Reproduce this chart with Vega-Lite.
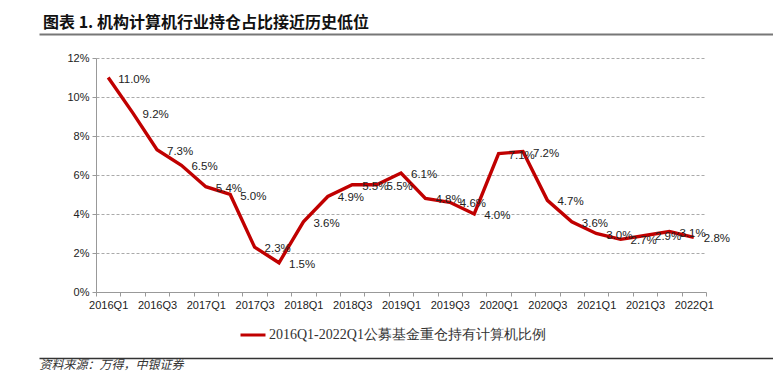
{
  "$schema": "https://vega.github.io/schema/vega-lite/v6.json",
  "width": 610,
  "height": 234,
  "padding": {"left": 38, "top": 15, "right": 0, "bottom": 4},
  "background": "white",
  "title": {
    "text": "图表 1. 机构计算机行业持仓占比接近历史低位",
    "anchor": "start",
    "frame": "group",
    "dx": -53,
    "offset": 3,
    "fontSize": 16,
    "font": "Noto Sans CJK SC",
    "fontWeight": "bold",
    "color": "#111"
  },
  "datasets": {
    "main": [
      {"q": "2016Q1", "v": 0.110, "s": "2016Q1-2022Q1公募基金重仓持有计算机比例"},
      {"q": "2016Q2", "v": 0.092, "s": "2016Q1-2022Q1公募基金重仓持有计算机比例"},
      {"q": "2016Q3", "v": 0.073, "s": "2016Q1-2022Q1公募基金重仓持有计算机比例"},
      {"q": "2016Q4", "v": 0.065, "s": "2016Q1-2022Q1公募基金重仓持有计算机比例"},
      {"q": "2017Q1", "v": 0.054, "s": "2016Q1-2022Q1公募基金重仓持有计算机比例"},
      {"q": "2017Q2", "v": 0.050, "s": "2016Q1-2022Q1公募基金重仓持有计算机比例"},
      {"q": "2017Q3", "v": 0.023, "s": "2016Q1-2022Q1公募基金重仓持有计算机比例"},
      {"q": "2017Q4", "v": 0.015, "s": "2016Q1-2022Q1公募基金重仓持有计算机比例"},
      {"q": "2018Q1", "v": 0.036, "s": "2016Q1-2022Q1公募基金重仓持有计算机比例"},
      {"q": "2018Q2", "v": 0.049, "s": "2016Q1-2022Q1公募基金重仓持有计算机比例"},
      {"q": "2018Q3", "v": 0.055, "s": "2016Q1-2022Q1公募基金重仓持有计算机比例"},
      {"q": "2018Q4", "v": 0.055, "s": "2016Q1-2022Q1公募基金重仓持有计算机比例"},
      {"q": "2019Q1", "v": 0.061, "s": "2016Q1-2022Q1公募基金重仓持有计算机比例"},
      {"q": "2019Q2", "v": 0.048, "s": "2016Q1-2022Q1公募基金重仓持有计算机比例"},
      {"q": "2019Q3", "v": 0.046, "s": "2016Q1-2022Q1公募基金重仓持有计算机比例"},
      {"q": "2019Q4", "v": 0.040, "s": "2016Q1-2022Q1公募基金重仓持有计算机比例"},
      {"q": "2020Q1", "v": 0.071, "s": "2016Q1-2022Q1公募基金重仓持有计算机比例"},
      {"q": "2020Q2", "v": 0.072, "s": "2016Q1-2022Q1公募基金重仓持有计算机比例"},
      {"q": "2020Q3", "v": 0.047, "s": "2016Q1-2022Q1公募基金重仓持有计算机比例"},
      {"q": "2020Q4", "v": 0.036, "s": "2016Q1-2022Q1公募基金重仓持有计算机比例"},
      {"q": "2021Q1", "v": 0.030, "s": "2016Q1-2022Q1公募基金重仓持有计算机比例"},
      {"q": "2021Q2", "v": 0.027, "s": "2016Q1-2022Q1公募基金重仓持有计算机比例"},
      {"q": "2021Q3", "v": 0.029, "s": "2016Q1-2022Q1公募基金重仓持有计算机比例"},
      {"q": "2021Q4", "v": 0.031, "s": "2016Q1-2022Q1公募基金重仓持有计算机比例"},
      {"q": "2022Q1", "v": 0.028, "s": "2016Q1-2022Q1公募基金重仓持有计算机比例"}
    ],
    "frame": [{"d": 0}, {"d": 1}]
  },
  "layer": [
    {
      "data": {"name": "main"},
      "encoding": {
        "x": {
          "field": "q",
          "type": "ordinal",
          "scale": {"type": "band", "paddingInner": 0, "paddingOuter": 0},
          "axis": {
            "orient": "bottom",
            "title": null,
            "labelAngle": 0,
            "labelOverlap": true,
            "tickBand": "extent",
            "labelFont": "Liberation Sans",
            "labelFontSize": 11,
            "labelColor": "#222",
            "labelPadding": 3,
            "tickSize": 4,
            "tickColor": "#999",
            "domainColor": "#999",
            "grid": false
          }
        },
        "y": {
          "field": "v",
          "type": "quantitative",
          "scale": {"domain": [0, 0.12]},
          "axis": {
            "title": null,
            "values": [0, 0.02, 0.04, 0.06, 0.08, 0.10, 0.12],
            "format": ".0%",
            "labelFont": "Liberation Sans",
            "labelFontSize": 11,
            "labelColor": "#222",
            "labelPadding": 3,
            "tickSize": 4,
            "tickColor": "#999",
            "domainColor": "#999",
            "grid": true,
            "gridColor": "#aaa",
            "gridDash": [3, 2],
            "gridWidth": 1
          }
        }
      },
      "layer": [
        {
          "mark": {"type": "line", "strokeWidth": 3.4, "color": "#C00000"},
          "encoding": {
            "color": {
              "field": "s",
              "type": "nominal",
              "scale": {"range": ["#C00000"]},
              "legend": {
                "orient": "none",
                "legendX": 143,
                "legendY": 263,
                "padding": 0,
                "title": null,
                "symbolType": "stroke",
                "symbolSize": 625,
                "symbolStrokeWidth": 3,
                "labelFont": "Liberation Serif",
                "labelFontSize": 14,
                "labelColor": "#333",
                "labelOffset": 2,
                "labelLimit": 500
              }
            }
          }
        },
        {
          "mark": {
            "type": "text",
            "align": "left",
            "baseline": "middle",
            "dx": 10,
            "dy": 2,
            "font": "Liberation Sans",
            "fontSize": 11.5,
            "color": "#222"
          },
          "encoding": {
            "text": {"field": "v", "type": "quantitative", "format": ".1%"}
          }
        }
      ]
    },
    {
      "data": {"name": "frame"},
      "mark": {"type": "tick", "opacity": 0},
      "encoding": {
        "x": {
          "field": "d",
          "type": "quantitative",
          "scale": {"domain": [0, 1], "range": [-57, 678], "nice": false, "zero": false},
          "axis": {
            "orient": "top",
            "offset": 24,
            "domainColor": "#777",
            "domainWidth": 2,
            "ticks": false,
            "labels": false,
            "grid": false,
            "title": null
          }
        }
      }
    },
    {
      "data": {"name": "frame"},
      "mark": {"type": "tick", "opacity": 0},
      "encoding": {
        "x": {
          "field": "d",
          "type": "quantitative",
          "scale": {"domain": [0, 1], "range": [-57, 678], "nice": false, "zero": false},
          "axis": {
            "orient": "bottom",
            "offset": 66,
            "domainColor": "#333",
            "domainWidth": 1.5,
            "ticks": false,
            "labels": false,
            "grid": false,
            "title": "资料来源：万得，中银证券",
            "titleAnchor": "start",
            "titleAlign": "left",
            "titleBaseline": "top",
            "titleFont": "Noto Sans CJK SC",
            "titleFontSize": 12,
            "titleFontWeight": "normal",
            "titleFontStyle": "italic",
            "titleColor": "#333",
            "titlePadding": 1
          }
        }
      }
    }
  ],
  "resolve": {"scale": {"x": "independent"}, "axis": {"x": "independent"}},
  "config": {
    "view": {"stroke": null}
  }
}
